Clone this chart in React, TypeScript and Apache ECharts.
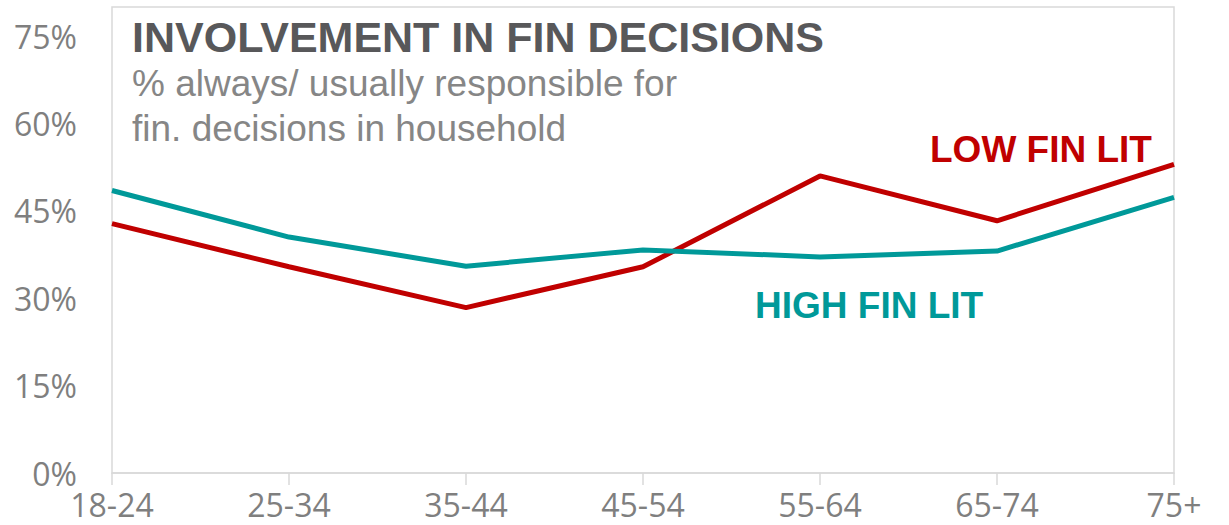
import React, { useEffect, useRef } from "react";
import * as echarts from "echarts";

// Age bands along the x axis
const ageBands = ["18-24", "25-34", "35-44", "45-54", "55-64", "65-74", "75+"];
// Share (%) always/usually responsible for financial decisions
const lowFinLit = [42.8, 35.4, 28.4, 35.4, 51.0, 43.3, 53.0];
const highFinLit = [48.5, 40.5, 35.5, 38.3, 37.1, 38.1, 47.3];
// Labelled y ticks (%)
const yTicks = [0, 15, 30, 45, 60, 75];

const RED = "#C00000";
const TEAL = "#009999";
const AXIS_GREY = "#D9D9D9";
const LABEL_GREY = "#7F7F7F";

export default function App() {
  const ref = useRef<HTMLDivElement>(null);

  useEffect(() => {
    if (!ref.current) return;
    const chart = echarts.init(ref.current, undefined, { renderer: "svg" });
    chart.setOption({
      animation: false,
      backgroundColor: "#ffffff",
      grid: {
        left: 112,
        right: 55,
        top: 7,
        bottom: 52,
        show: true,
        borderColor: AXIS_GREY,
        borderWidth: 1.5,
        backgroundColor: "transparent",
      },
      xAxis: {
        type: "category",
        data: ageBands,
        boundaryGap: false,
        axisLine: { show: true, lineStyle: { color: AXIS_GREY, width: 1.5 } },
        axisTick: { show: true, length: 12, lineStyle: { color: AXIS_GREY, width: 1.5 } },
        axisLabel: {
          color: LABEL_GREY,
          fontFamily: "Open Sans",
          fontSize: 32,
          margin: 15,
        },
        splitLine: { show: false },
      },
      yAxis: {
        type: "value",
        min: 0,
        max: 80,
        interval: 15,
        axisLine: { show: false },
        axisTick: { show: false },
        splitLine: { show: false },
        axisLabel: {
          color: LABEL_GREY,
          fontFamily: "Open Sans",
          fontSize: 32,
          margin: 35,
          formatter: (v: number) => (yTicks.includes(v) ? `${v}%` : ""),
        },
      },
      series: [
        {
          name: "LOW FIN LIT",
          type: "line",
          data: lowFinLit,
          showSymbol: false,
          lineStyle: { color: RED, width: 5 },
          itemStyle: { color: RED },
        },
        {
          name: "HIGH FIN LIT",
          type: "line",
          data: highFinLit,
          showSymbol: false,
          lineStyle: { color: TEAL, width: 5 },
          itemStyle: { color: TEAL },
        },
      ],
      graphic: [
        {
          type: "text",
          left: 132,
          top: 15,
          style: {
            text: "INVOLVEMENT IN FIN DECISIONS",
            fill: "#58585A",
            font: "bold 43px 'Liberation Sans', Arial, sans-serif",
          },
        },
        {
          type: "text",
          left: 132,
          top: 61,
          style: {
            text: "% always/ usually responsible for\nfin. decisions in household",
            fill: "#868686",
            font: "37px 'Liberation Sans', Arial, sans-serif",
            lineHeight: 45,
          },
        },
        {
          type: "text",
          left: 930,
          top: 131,
          style: {
            text: "LOW FIN LIT",
            fill: RED,
            font: "bold 37px 'Liberation Sans', Arial, sans-serif",
          },
        },
        {
          type: "text",
          left: 755,
          top: 287,
          style: {
            text: "HIGH FIN LIT",
            fill: TEAL,
            font: "bold 37px 'Liberation Sans', Arial, sans-serif",
          },
        },
      ],
    });
    return () => chart.dispose();
  }, []);

  return (
    <div
      ref={ref}
      style={{ position: "fixed", left: 0, top: 0, width: 1229, height: 525 }}
    />
  );
}
